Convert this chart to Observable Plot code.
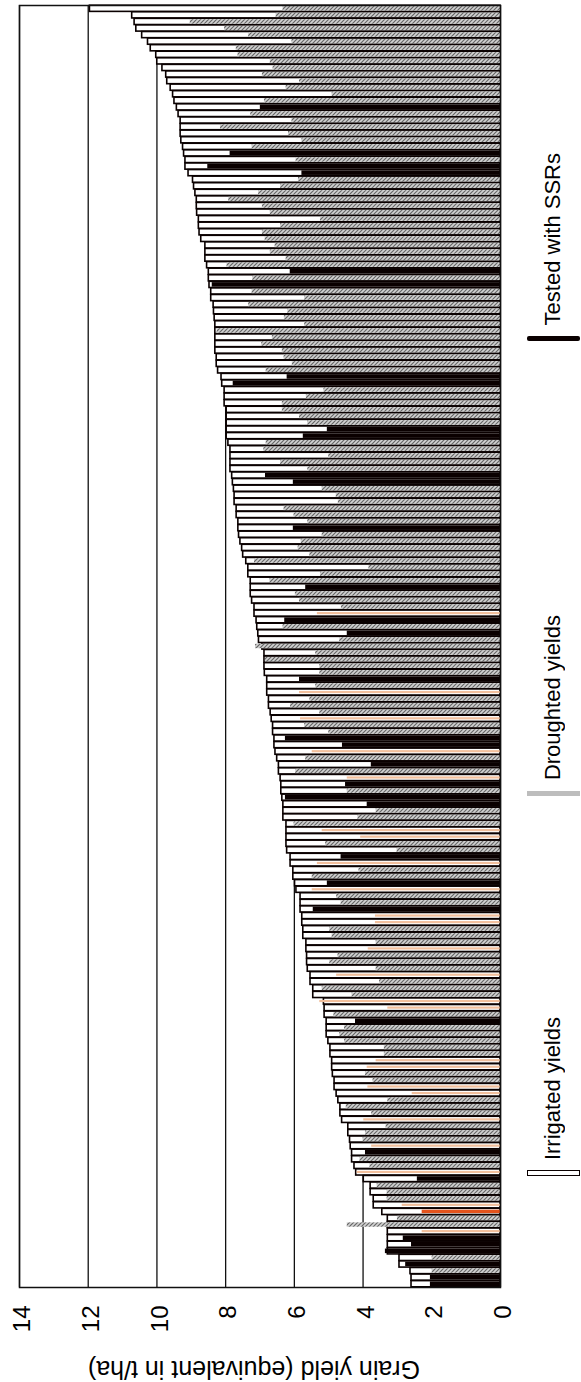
<!DOCTYPE html>
<html>
<head>
<meta charset="utf-8">
<script src="https://cdn.jsdelivr.net/npm/d3@7"></script>
<script src="https://cdn.jsdelivr.net/npm/@observablehq/plot@0.6"></script>
<style>
  html, body { margin: 0; padding: 0; background: #fff; }
  body { font-family: "Liberation Sans", Arial, sans-serif; }
  #wrap { position: relative; width: 581px; height: 1382px; overflow: hidden; }
  .lt { position: absolute; writing-mode: vertical-rl; transform: rotate(180deg);
        font-size: 22px; line-height: 22px; white-space: nowrap; color: #000; }
</style>
</head>
<body>
<div id="wrap"></div>
<script>
// ---- data (genotypes sorted by irrigated yield, highest first) ----
const irrigated = [
  11.95,10.72,10.65,10.60,10.43,10.26,10.18,10.02,9.99,9.84,
  9.73,9.70,9.60,9.53,9.49,9.42,9.37,9.31,9.31,9.31,
  9.29,9.24,9.21,9.17,9.17,9.08,8.95,8.92,8.88,8.84,
  8.84,8.83,8.78,8.78,8.76,8.71,8.59,8.59,8.59,8.54,
  8.49,8.49,8.47,8.42,8.42,8.35,8.34,8.32,8.30,
  8.30,8.30,8.30,8.30,8.26,8.26,8.22,8.12,8.10,8.03,
  8.03,8.03,7.97,7.97,7.97,7.97,7.97,7.92,7.86,7.86,
  7.86,7.86,7.81,7.79,7.76,7.74,7.74,7.68,7.68,7.63,
  7.63,7.61,7.57,7.52,7.49,7.40,7.34,7.34,7.27,7.27,
  7.27,7.23,7.16,7.16,7.10,7.08,7.05,7.03,
  6.93,6.87,6.87,6.87,6.86,6.79,6.79,6.79,6.74,6.74,
  6.69,6.66,6.62,6.62,6.58,6.58,6.55,6.50,6.45,6.45,
  6.40,6.38,6.38,6.35,6.32,6.32,6.32,6.23,6.23,6.23,
  6.23,6.21,6.11,6.11,6.03,6.03,5.98,5.94,5.82,5.82,
  5.82,5.77,5.77,5.74,5.74,5.65,5.65,5.63,5.63,
  5.61,5.53,5.53,5.45,5.45,5.14,5.12,5.12,5.06,5.06,
  5.06,5.01,4.95,4.95,4.90,4.90,4.88,4.83,4.83,4.77,
  4.72,4.66,4.66,4.61,4.43,4.43,4.38,4.36,4.32,4.32,
  4.25,4.20,3.98,3.78,3.78,3.69,3.69,3.44,3.28,3.28,
  3.28,3.28,3.28,3.28,2.94,2.94,2.62,2.59,2.59
];
const droughted = [
  6.33,6.53,9.03,8.03,7.33,6.07,7.69,7.64,6.70,6.62,
  6.93,5.85,6.24,4.90,6.87,6.99,7.27,6.07,8.15,6.17,
  5.78,7.23,7.87,5.95,8.52,5.78,5.88,6.40,7.04,7.91,
  6.93,6.70,5.24,6.40,6.93,6.85,6.56,6.70,6.24,7.96,
  6.12,7.21,8.39,7.23,5.70,7.33,6.19,6.29,5.70,
  8.25,6.64,6.95,6.35,6.30,6.06,6.82,6.21,7.78,5.14,
  5.65,6.35,6.35,5.85,5.61,5.04,5.74,6.82,6.89,5.00,
  6.40,5.61,6.84,6.03,5.19,4.78,4.72,6.30,6.01,5.61,
  6.03,5.19,5.80,5.89,5.55,7.16,3.83,5.24,6.71,5.67,
  5.97,5.85,4.63,5.33,6.28,6.33,4.46,4.68,
  7.13,5.38,6.84,5.26,5.26,5.85,5.38,5.85,5.55,6.11,
  5.26,5.82,5.70,5.00,6.26,4.60,5.48,5.67,3.76,5.96,
  4.46,4.51,4.46,6.26,3.88,3.62,4.15,6.01,5.19,4.07,
  5.09,3.01,4.64,5.33,4.12,5.48,5.04,5.48,4.77,4.64,
  5.45,3.64,3.64,4.97,4.90,3.62,3.85,4.73,4.97,
  3.62,4.77,3.52,5.19,4.32,5.26,3.28,4.85,4.22,4.54,
  4.68,4.54,3.38,3.38,3.62,3.88,3.93,3.71,3.86,2.57,
  3.28,4.49,3.75,3.98,3.33,3.93,4.00,3.75,3.93,4.09,
  3.80,4.17,2.42,3.59,3.30,3.30,2.86,2.28,3.00,4.46,
  2.28,2.83,2.59,3.35,1.99,2.76,1.99,2.04,2.04
];
// H = droughted (hatched), B = tested with SSRs (black), P = pale orange, O = orange
const status = [
  "H","H","H","H","H","H","H","H","H","H",
  "H","H","H","H","H","B","H","H","H","H",
  "H","H","B","H","B","B","H","H","H","H",
  "H","H","H","H","H","H","H","H","H","H",
  "B","H","B","H","H","H","H","H","H",
  "H","H","H","H","H","H","H","B","B","H",
  "H","H","H","H","H","B","B","H","H","H",
  "H","H","B","B","H","H","H","H","H","H",
  "B","H","H","H","H","H","H","H","H","B",
  "H","H","H","P","B","H","B","H",
  "H","H","H","H","H","B","H","P","H","H",
  "H","P","H","H","B","B","P","H","B","H",
  "P","B","H","B","B","H","H","H","P","P",
  "H","H","B","P","H","H","B","P","H","H",
  "B","P","P","H","H","H","P","H","H",
  "H","P","H","H","H","P","P","H","B","H",
  "H","H","H","H","P","P","H","H","P","P",
  "H","H","H","P","H","H","H","P","B","H",
  "H","P","B","H","H","H","P","O","H","H",
  "P","B","B","B","H","B","H","B","B"
];
const xTicks = [0, 2, 4, 6, 8, 10, 12, 14];
const axisTitle = "Grain yield (equivalent in t/ha)";
const legendLabels = ["Tested with SSRs", "Droughted yields", "Irrigated yields"];

// ---- build table ----
const rows = irrigated.map((v, i) => ({i, irr: v, dr: droughted[i], s: status[i]}));
const fills = {H: "url(#hatch)", B: "#0a0000", P: "#f2bf9c", O: "#e4531c"};
const insets = {H: 1.1, B: 1.0, P: 2.2, O: 1.6};

const W = 581, H = 1382;
const droughtMarks = Object.keys(fills).map(k =>
  Plot.barX(rows.filter(d => d.s === k), {
    x1: 0, x2: "dr", y: "i", fill: fills[k], insetTop: insets[k], insetBottom: insets[k]
  })
);

const chart = Plot.plot({
  width: W,
  height: H,
  marginLeft: 19,
  marginRight: 81,
  marginTop: 5,
  marginBottom: 95,
  style: {fontFamily: "'Liberation Sans', Arial, sans-serif", background: "white", overflow: "visible"},
  x: {domain: [0, 14], reverse: true},
  y: {type: "band", domain: d3.range(rows.length), padding: 0, axis: null},
  marks: [
    Plot.ruleX(xTicks, {stroke: "#111", strokeWidth: 1.3}),
    Plot.barX(rows, {x1: 0, x2: "irr", y: "i", fill: "white", stroke: "#0a0000", strokeWidth: 1.6, insetTop: 0.2, insetBottom: 0.2}),
    ...droughtMarks,
    Plot.frame({stroke: "#111", strokeWidth: 1.5}),
    Plot.axisX(xTicks, {anchor: "bottom", tickSize: 0, tickPadding: 18, tickRotate: -90, fontSize: 24, dx: 3, label: null, fill: "#000"}),
    Plot.text([axisTitle], {frameAnchor: "bottom", rotate: 180, dy: 73, dx: -6, fontSize: 25, fill: "#000"})
  ]
});

const ns = "http://www.w3.org/2000/svg";
const defs = document.createElementNS(ns, "defs");
defs.innerHTML = '<pattern id="hatch" patternUnits="userSpaceOnUse" width="4" height="4">' +
  '<rect width="4" height="4" fill="#d2d2d2"/>' +
  '<path d="M-1,1 L1,-1 M0,4 L4,0 M3,5 L5,3" stroke="#666" stroke-width="1.2"/></pattern>';
chart.insertBefore(defs, chart.firstChild);

const wrap = document.getElementById("wrap");
wrap.appendChild(chart);

// ---- legend (right side, rotated text) ----
const legendItems = [
  {label: legendLabels[0], bottom: 325, swTop: 336, style: "background:#0a0000;height:5px;border-radius:2px;"},
  {label: legendLabels[1], bottom: 780, swTop: 791, style: "background:#bdbdbd;height:5px;"},
  {label: legendLabels[2], bottom: 1160, swTop: 1170, style: "background:#fff;border:1.3px solid #0a0000;height:6px;"}
];
for (const it of legendItems) {
  const t = document.createElement("div");
  t.className = "lt";
  t.textContent = it.label;
  t.style.left = "542px";
  t.style.bottom = (H - it.bottom) + "px";
  wrap.appendChild(t);
  const s = document.createElement("div");
  s.setAttribute("style", "position:absolute;box-sizing:border-box;left:527px;width:53px;top:" + it.swTop + "px;" + it.style);
  wrap.appendChild(s);
}
</script>
</body>
</html>
